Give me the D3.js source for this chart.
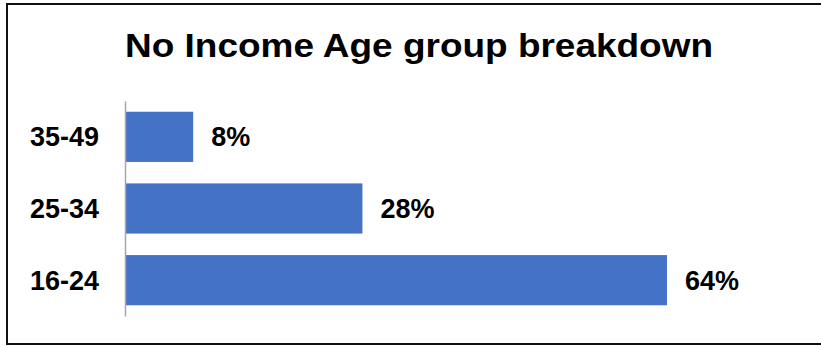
<!DOCTYPE html>
<html>
<head>
<meta charset="utf-8">
<script src="https://cdn.jsdelivr.net/npm/d3@7"></script>
<style>
  html, body { margin: 0; padding: 0; background: #fff; }
  svg { display: block; }
  text { font-family: "Liberation Sans", Arial, sans-serif; font-weight: bold; fill: #000; }
</style>
</head>
<body>
<script>
// Age groups, top to bottom, and their share of respondents with no income
const categories = ["35-49", "25-34", "16-24"];
const shares = [8, 28, 64];
const valueLabels = ["8%", "28%", "64%"];
const title = "No Income Age group breakdown";

const W = 821, H = 347;
const svg = d3.select("body").append("svg").attr("width", W).attr("height", H);

// Frame around the chart (left, top and bottom edges)
const frame = svg.append("g").attr("stroke", "#111").attr("stroke-width", 2).attr("fill", "none");
frame.append("line").attr("x1", 7).attr("x2", 7).attr("y1", 3).attr("y2", 345);
frame.append("line").attr("x1", 6).attr("x2", W).attr("y1", 4).attr("y2", 4);
frame.append("line").attr("x1", 6).attr("x2", W).attr("y1", 344).attr("y2", 344);

// Title
svg.append("text")
  .attr("x", 419).attr("y", 57)
  .attr("text-anchor", "middle")
  .attr("font-size", 33)
  .attr("textLength", 588)
  .attr("lengthAdjust", "spacingAndGlyphs")
  .text(title);

// Scales
const x = d3.scaleLinear().domain([0, 64]).range([125.5, 667]);
const y = d3.scaleBand().domain(categories).range([101, 316]).paddingInner(0.3).paddingOuter(0.15);

// Bars
svg.append("g").selectAll("rect")
  .data(categories)
  .join("rect")
  .attr("x", x(0))
  .attr("y", d => y(d))
  .attr("width", (d, i) => x(shares[i]) - x(0))
  .attr("height", y.bandwidth())
  .attr("fill", "#4472C4");

// Category axis
const yAxis = svg.append("g")
  .attr("transform", `translate(${x(0) - 0.5},0)`)
  .call(d3.axisLeft(y).tickSize(0).tickPadding(26));
yAxis.select(".domain").attr("stroke", "#a6a6a6").attr("stroke-width", 1.5);
yAxis.selectAll(".tick text")
  .attr("font-size", 27)
  .attr("font-family", "'Liberation Sans', Arial, sans-serif")
  .attr("font-weight", "bold")
  .attr("fill", "#000")
  .attr("dy", "0.35em");

// Value labels
svg.append("g").selectAll("text")
  .data(categories)
  .join("text")
  .attr("x", (d, i) => x(shares[i]) + 18)
  .attr("y", d => y(d) + y.bandwidth() / 2)
  .attr("dy", "0.35em")
  .attr("font-size", 27)
  .text((d, i) => valueLabels[i]);
</script>
</body>
</html>
